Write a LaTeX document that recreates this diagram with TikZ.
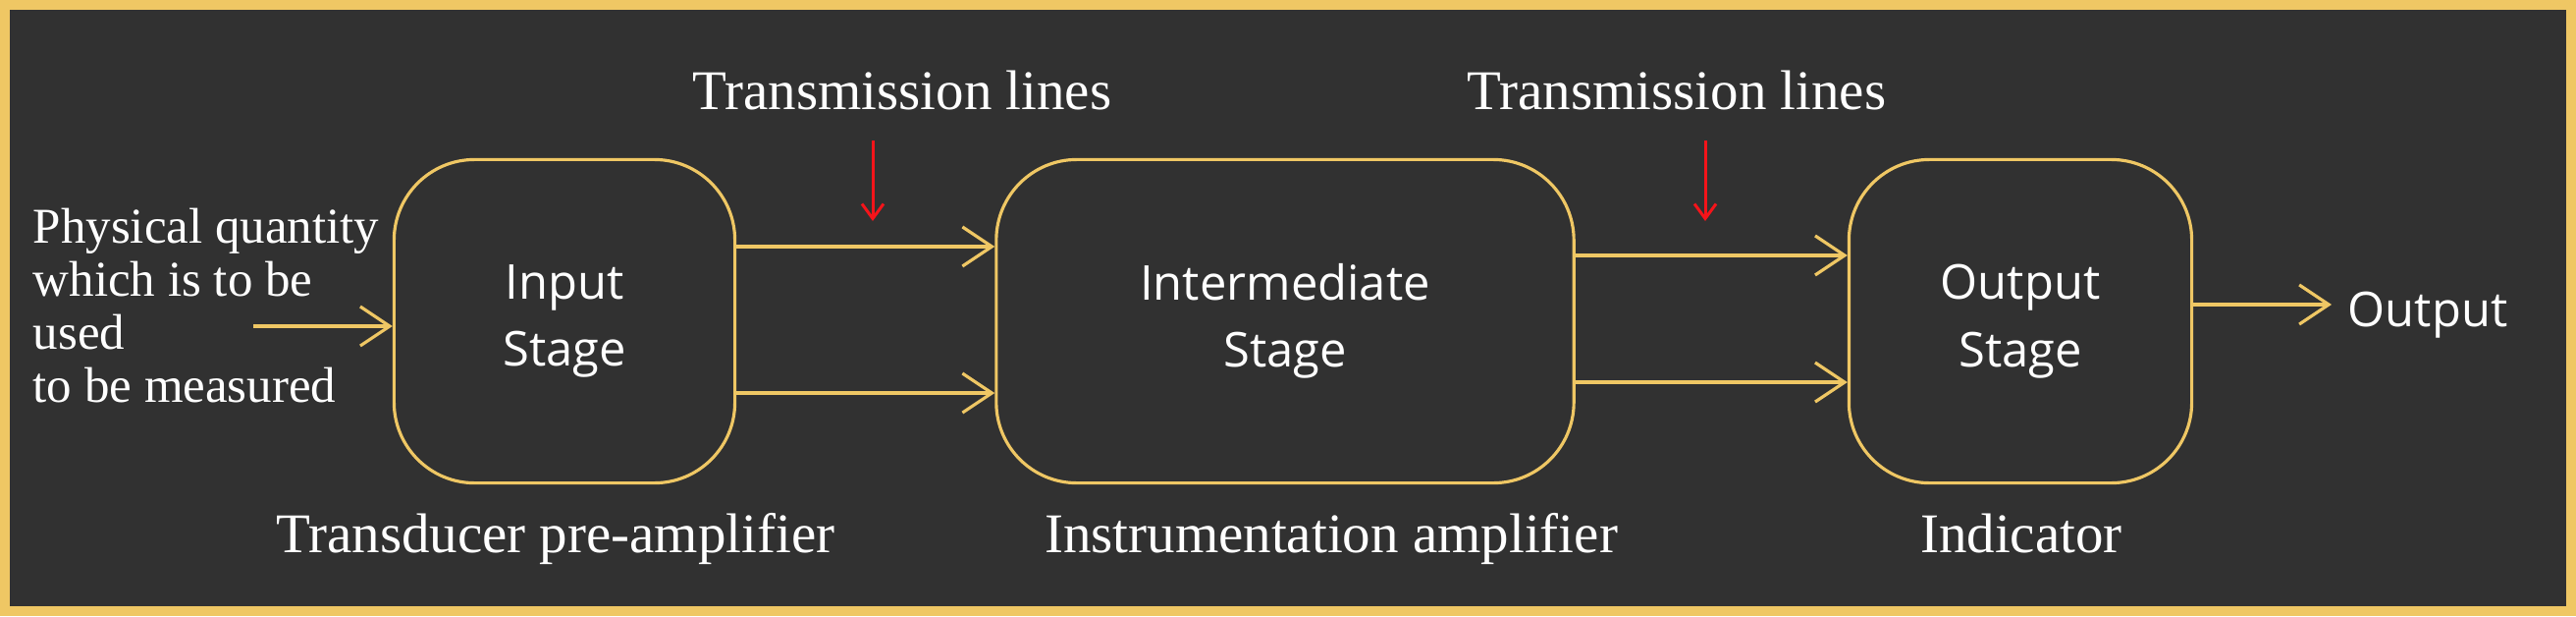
\documentclass[tikz,border=0pt]{standalone}
\usepackage{fontspec}
\setmainfont{Liberation Serif}
\newfontfamily\stagefont{Open Sans}
\usetikzlibrary{arrows.meta}
\definecolor{gold}{HTML}{EFC764}
\definecolor{slate}{HTML}{313131}
\definecolor{tipred}{HTML}{F5141A}

\begin{document}
\begin{tikzpicture}[x=0.01cm,y=-0.01cm,
    stage/.style={draw=gold,line width=0.9pt,rounded corners=0.82cm,minimum height=3.29cm,
        text=white,align=center,font=\stagefont\fontsize{13.9}{19.5}\selectfont},
    flow/.style={gold,line width=0.9pt,-{Straight Barb[length=3mm,width=4mm]}},
    hint/.style={tipred,line width=0.85pt,-{Straight Barb[length=1.5mm,width=2.2mm]}},
    lbl/.style={text=white,font=\fontsize{16.2}{19}\selectfont,inner sep=0pt}]
    \useasboundingbox (0,0) rectangle (2624,627);
    \fill[gold] (0,0) rectangle (2624,627);
    \fill[slate] (10,10) rectangle (2614,617);

    \node[stage,minimum width=3.47cm] (in) at (575,327) {Input\\Stage};
    \node[stage,minimum width=5.88cm] (mid) at (1309,327) {Intermediate\\Stage};
    \node[stage,minimum width=3.49cm] (out) at (2058,327) {Output\\Stage};

    \node[lbl,anchor=west,align=left,font=\fontsize{14.5}{15.4}\selectfont] (qty) at (33,311)
        {Physical quantity\\which is to be\\used\\to be measured};
    \node[lbl,anchor=base] (tl1) at (919,111) {Transmission lines};
    \node[lbl,anchor=base] (tl2) at (1708,111) {Transmission lines};
    \node[lbl,anchor=base] (pre) at (566,562) {Transducer pre-amplifier};
    \node[lbl,anchor=base] (amp) at (1356,562) {Instrumentation amplifier};
    \node[lbl,anchor=base] (ind) at (2059,562) {Indicator};
    \node[text=white,inner sep=0pt,anchor=base west,font=\stagefont\fontsize{13.9}{19.5}\selectfont] (res) at (2391,332) {Output};

    \coordinate (src) at (258,332);
    \coordinate (dst) at (2375,310);
    \coordinate (h1a) at (889,143);
    \coordinate (h1b) at (889,225);
    \coordinate (h2a) at (1737,143);
    \coordinate (h2b) at (1737,225);

    \draw[flow] (src) -- (src -| in.west);
    \draw[flow] ([yshift=7.6mm]in.east) -- ([yshift=7.6mm]mid.west);
    \draw[flow] ([yshift=-7.3mm]in.east) -- ([yshift=-7.3mm]mid.west);
    \draw[flow] ([yshift=6.7mm]mid.east) -- ([yshift=6.7mm]out.west);
    \draw[flow] ([yshift=-6.2mm]mid.east) -- ([yshift=-6.2mm]out.west);
    \draw[flow] (dst -| out.east) -- (dst);

    \draw[hint] (h1a) -- (h1b);
    \draw[hint] (h2a) -- (h2b);
\end{tikzpicture}
\end{document}
